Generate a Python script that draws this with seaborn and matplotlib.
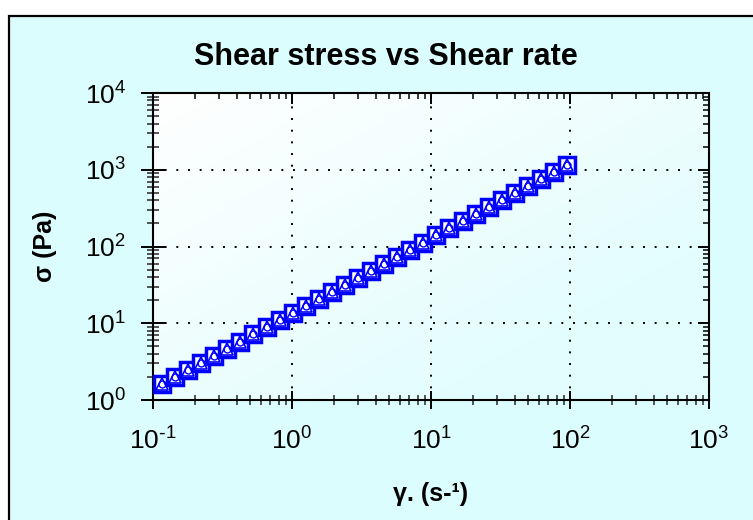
import numpy as np
import pandas as pd
import matplotlib
matplotlib.use("Agg")
import matplotlib.pyplot as plt
from matplotlib.patches import Rectangle
from matplotlib.ticker import FixedLocator, FixedFormatter, LogLocator, NullFormatter
import seaborn as sns

# Flow curve: shear rate (1/s) and shear stress (Pa)
shear_rate = [0.1161, 0.1442, 0.1791, 0.2223, 0.2761, 0.3428, 0.4256, 0.5284,
              0.6561, 0.8147, 1.0116, 1.256, 1.560, 1.936, 2.404, 2.985,
              3.707, 4.603, 5.715, 7.096, 8.810, 10.94, 13.58, 16.87,
              20.94, 26.00, 32.28, 40.09, 49.77, 61.80, 76.74, 95.28]
shear_stress = [1.622, 2.004, 2.477, 3.062, 3.784, 4.677, 5.781, 7.145,
                8.851, 10.94, 13.52, 16.71, 20.65, 25.53, 31.55, 38.99,
                48.19, 59.57, 73.79, 91.20, 112.7, 139.3, 172.2, 212.8,
                263.0, 325.1, 402.7, 497.7, 615.2, 760.3, 939.7, 1161.0]

x_ticks = [0.1, 1, 10, 100, 1000]
x_tick_labels = [r"$\mathregular{10^{\text{-}1}}$", r"$\mathregular{10^{0}}$",
                 r"$\mathregular{10^{1}}$", r"$\mathregular{10^{2}}$",
                 r"$\mathregular{10^{3}}$"]
y_ticks = [1, 10, 100, 1000, 10000]
y_tick_labels = [r"$\mathregular{10^{0}}$", r"$\mathregular{10^{1}}$",
                 r"$\mathregular{10^{2}}$", r"$\mathregular{10^{3}}$",
                 r"$\mathregular{10^{4}}$"]

title = "Shear stress vs Shear rate"
x_label = "γ. (s-¹)"
y_label = "σ (Pa)"

sns.set_theme(style="white")
plt.rcParams["font.family"] = ["Liberation Sans", "DejaVu Sans"]
plt.rcParams["mathtext.fontset"] = "custom"
plt.rcParams["mathtext.rm"] = "Liberation Sans Narrow"
plt.rcParams["mathtext.it"] = "Liberation Sans Narrow"
plt.rcParams["mathtext.bf"] = "Liberation Sans Narrow:bold"

W, H = 753, 520
fig = plt.figure(figsize=(W / 100, H / 100), dpi=100)
fig.patch.set_facecolor("white")

# Light cyan panel with a black frame
fig.add_artist(Rectangle((8.5 / W, -0.05), 1.2, 1.05 - 16 / H,
                         transform=fig.transFigure, facecolor="#dcfdfd",
                         edgecolor="black", linewidth=1.6, zorder=0))

pos = [153 / W, 120 / H, 556 / W, 307 / H]

# Soft white-to-cyan gradient behind the plotting area
bg = fig.add_axes(pos, zorder=1)
gx, gy = np.meshgrid(np.linspace(0, 1, 64), np.linspace(0, 1, 64))
t = np.clip((gx + gy) / 1.6, 0, 1)[..., None]
c0 = np.array([1.0, 1.0, 1.0])
c1 = np.array([0xe2, 0xfd, 0xfd]) / 255
bg.imshow(c0 * (1 - t) + c1 * t, extent=[0, 1, 0, 1], aspect="auto",
          interpolation="bilinear")
bg.axis("off")

ax = fig.add_axes(pos, zorder=2)
ax.patch.set_alpha(0)
ax.set_xscale("log")
ax.set_yscale("log")
ax.set_xlim(0.1, 1000)
ax.set_ylim(1, 10000)

df = pd.DataFrame({"rate": shear_rate, "stress": shear_stress})
blue = "#0000ff"
sns.lineplot(data=df, x="rate", y="stress", ax=ax, linestyle="", marker="s",
             markersize=12, markerfacecolor="white", markeredgecolor=blue,
             markeredgewidth=2.5, color=blue, zorder=3)
sns.lineplot(data=df, x="rate", y="stress", ax=ax, linestyle="", marker="^",
             markersize=8, markerfacecolor="none", markeredgecolor=blue,
             markeredgewidth=1.2, color=blue, zorder=4)
sns.lineplot(data=df, x="rate", y="stress", ax=ax, linestyle="", marker="o",
             markersize=5, markerfacecolor="none", markeredgecolor=blue,
             markeredgewidth=1.0, color=blue, zorder=4)
ax.set_xlabel("")
ax.set_ylabel("")

ax.grid(True, which="major", color="black", linestyle=(0, (1, 5)), linewidth=1.4)
ax.grid(False, which="minor")

minor_subs = np.arange(2, 10)
ax.xaxis.set_major_locator(FixedLocator(x_ticks))
ax.xaxis.set_major_formatter(FixedFormatter(x_tick_labels))
ax.yaxis.set_major_locator(FixedLocator(y_ticks))
ax.yaxis.set_major_formatter(FixedFormatter(y_tick_labels))
ax.xaxis.set_minor_locator(LogLocator(base=10, subs=minor_subs, numticks=30))
ax.yaxis.set_minor_locator(LogLocator(base=10, subs=minor_subs, numticks=30))
ax.xaxis.set_minor_formatter(NullFormatter())
ax.yaxis.set_minor_formatter(NullFormatter())

ax.tick_params(axis="x", which="major", direction="inout", length=13, width=1.4,
               bottom=True, top=False, labelsize=19, pad=13, colors="black")
ax.tick_params(axis="x", which="minor", direction="inout", length=7, width=1.1,
               bottom=True, top=False)
ax.tick_params(axis="y", which="major", direction="inout", length=17, width=1.4,
               left=True, right=False, labelsize=19, pad=11, colors="black")
ax.tick_params(axis="y", which="minor", direction="inout", length=8, width=1.1,
               left=True, right=False)
for sp in ax.spines.values():
    sp.set_color("black")
    sp.set_linewidth(1.5)

# Inward ticks on the top and right edges
ax_in = fig.add_axes(pos, zorder=3)
ax_in.patch.set_visible(False)
ax_in.set_xscale("log")
ax_in.set_yscale("log")
ax_in.set_xlim(0.1, 1000)
ax_in.set_ylim(1, 10000)
ax_in.xaxis.set_major_locator(FixedLocator(x_ticks))
ax_in.yaxis.set_major_locator(FixedLocator(y_ticks))
ax_in.xaxis.set_minor_locator(LogLocator(base=10, subs=minor_subs, numticks=30))
ax_in.yaxis.set_minor_locator(LogLocator(base=10, subs=minor_subs, numticks=30))
ax_in.tick_params(which="both", direction="in", bottom=False, left=False,
                  top=True, right=True, labelbottom=False, labelleft=False,
                  labeltop=False, labelright=False, colors="black")
ax_in.tick_params(which="major", length=8, width=1.4)
ax_in.tick_params(which="minor", length=4, width=1.1)
for sp in ax_in.spines.values():
    sp.set_visible(False)

fig.text(386 / W, 1 - 65 / H, title, ha="center", va="baseline",
         fontsize=22, fontweight="bold", color="black")
fig.text(45 / W, 1 - 246 / H, y_label, rotation=90, ha="center", va="center",
         fontsize=18, fontweight="bold", color="black")
fig.text(431 / W, 1 - 494 / H, x_label, ha="center", va="center",
         fontsize=18, fontweight="bold", color="black")

fig.savefig("out.png", dpi=100, facecolor=fig.get_facecolor())
